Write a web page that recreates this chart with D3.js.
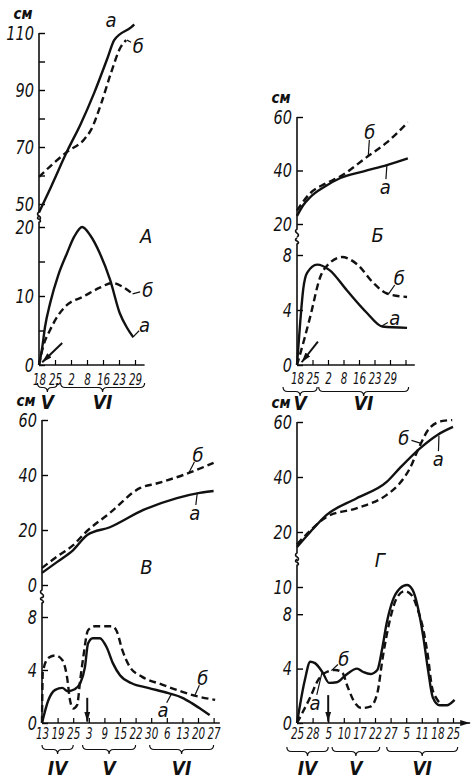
<!DOCTYPE html>
<html>
<head>
<meta charset="utf-8">
<script src="https://cdn.jsdelivr.net/npm/d3@7"></script>
<style>
  body { margin: 0; background: #fff; }
  svg text { font-family: 'DejaVu Sans Condensed', 'Liberation Sans Narrow', sans-serif; font-style: italic; fill: #111; }
</style>
</head>
<body>
<svg id="vis" width="471" height="780"></svg>
<script>
// Даты по оси X (день месяца), месяцы – римскими цифрами
const datesA = ["18", "25", "2", "8", "16", "23", "29"];
const datesB = ["18", "25", "2", "8", "16", "23", "29", ""];
const datesC = ["13", "19", "25", "3", "9", "15", "22", "30", "6", "13", "20", "27"];
const datesD = ["25", "28", "5", "10", "17", "22", "27", "5", "11", "18", "25"];

// месяцы: [название, от индекса, до индекса]
const monthsA = [["V", -0.1, 1.15], ["VI", 1.35, 6.6]];
const monthsB = [["V", -0.9, 1.3], ["VI", 1.4, 7.2]];
const monthsC = [["IV", 0, 2], ["V", 2.6, 6], ["VI", 6.9, 11]];
const monthsD = [["IV", -0.65, 2], ["V", 2.25, 5.3], ["VI", 5.75, 10.3]];

// высота растений, см  ([индекс даты, значение])
const heightA_a = [[0, 47], [0.75, 56], [1.8, 69], [2.6, 78], [3.45, 89], [4.3, 101.5], [4.7, 107.5], [5.75, 112], [5.95, 113]];
const heightA_b = [[0, 59.5], [0.95, 64.5], [1.8, 68.5], [2.8, 72.5], [3.25, 76], [3.9, 85.5], [4.5, 96], [5.1, 105], [5.45, 107.5]];
const heightB_a = [[0, 23], [0.4, 27], [0.85, 30], [1.8, 34], [2.8, 37.2], [4.3, 39.7], [5.8, 42], [7.15, 44.5]];
const heightB_b = [[0, 25], [0.85, 31.5], [1.8, 35], [2.8, 37.8], [4.5, 45], [5.8, 50.5], [7.15, 58]];
const heightC_a = [[0, 4.4], [1, 8.5], [2, 12.7], [2.9, 18.2], [4.35, 21], [6.5, 27.3], [8.65, 31.6], [10.1, 33.5], [11, 34.2]];
const heightC_b = [[0, 6.2], [1, 10.5], [2, 14.5], [2.75, 18.9], [4.35, 26.2], [6.3, 35.3], [7.4, 37], [9.05, 40], [11, 44.4]];
const heightD_a = [[0, 14.5], [0.85, 20], [1.9, 26.2], [3.8, 32.2], [5.75, 38.2], [6.6, 43.3], [7.9, 50.5], [9, 55.3], [10, 58.2]];
const heightD_b = [[0, 15.5], [0.85, 20.5], [1.9, 25.5], [3.85, 28.7], [5.75, 33.5], [6.6, 37.8], [7.25, 43.3], [7.75, 49.8], [8.5, 57.8], [9.35, 60.4], [9.95, 60.7]];

// скорость роста
const rateA_a = [[0, 0], [0.2, 2.5], [0.375, 5.5], [0.7, 9], [1.2, 13], [1.75, 16.2], [2.2, 18.6], [2.7, 20], [3.2, 18.8], [3.8, 16.2], [4.45, 12.3], [5.05, 7.5], [5.5, 5.4], [5.9, 4]];
const rateA_b = [[0, 0], [0.25, 2.6], [0.7, 5.1], [1.2, 7.2], [1.75, 8.7], [2.75, 9.9], [3.8, 11.2], [4.6, 11.9], [5.25, 11.3], [5.8, 10.4]];
const rateB_a = [[0, 0], [0.2, 3], [0.4, 5.5], [0.65, 6.7], [1.3, 7.3], [2.1, 6.9], [3.2, 5.45], [4.5, 3.8], [5.5, 2.8], [7.1, 2.7]];
const rateB_b = [[0, 0], [0.5, 2], [0.85, 3.5], [1.5, 6.4], [2.1, 7.4], [2.9, 7.85], [3.9, 7.3], [4.9, 6], [5.8, 5.2], [7.1, 4.95]];
const rateC_a = [[0, 0], [0.4, 1.7], [0.85, 2.5], [1.3, 2.65], [1.65, 2.4], [2.1, 2.55], [2.45, 3], [2.75, 4.2], [2.95, 6], [3.25, 6.4], [3.7, 6.4], [4.15, 5.7], [4.55, 4.5], [5, 3.6], [5.75, 3], [6.8, 2.65], [8.1, 2.25], [9, 1.9], [9.6, 1.5], [10.25, 1], [10.75, 0.6]];
const rateC_b = [[0, 0], [0.05, 3.8], [0.4, 4.9], [0.85, 5.1], [1.3, 4.75], [1.6, 3.5], [1.8, 1.7], [2, 1.1], [2.25, 1.35], [2.45, 3.25], [2.65, 5], [2.95, 7], [3.4, 7.3], [4.5, 7.3], [4.8, 6.9], [5.15, 5.5], [5.65, 4.2], [6.4, 3.5], [7.7, 2.9], [9, 2.35], [10, 2], [11.1, 1.75]];
const rateD_a = [[0, 0], [0.5, 3.15], [0.85, 4.5], [1.15, 4.4], [1.65, 3.7], [2.05, 2.95], [2.55, 3], [3.1, 3.5], [3.85, 4], [4.25, 3.75], [4.7, 3.6], [5.15, 3.9], [5.45, 5.4], [5.75, 7.35], [6.15, 9.05], [6.6, 9.9], [7.05, 10.15], [7.4, 9.8], [7.75, 8.5], [8.1, 6.3], [8.4, 3.9], [8.7, 1.9], [9.15, 1.3], [9.6, 1.3], [10.1, 1.7]];
const rateD_b = [[0, 0], [0.85, 1.9], [1.35, 3.15], [1.9, 3.75], [2.45, 3.9], [2.9, 3.7], [3.25, 2.65], [3.7, 1.5], [4.15, 1.1], [4.7, 1.2], [5.15, 2.2], [5.5, 4.85], [5.95, 7.55], [6.4, 9.2], [6.9, 9.7], [7.35, 9.4], [7.75, 8.3], [8.1, 6.85], [8.4, 4.85], [8.65, 2.65], [9, 1.7], [9.35, 1.3]];

const svg = d3.select("#vis");

svg.append("defs").append("marker")
  .attr("id", "arr").attr("viewBox", "0 0 10 6").attr("refX", 10).attr("refY", 3)
  .attr("markerWidth", 10).attr("markerHeight", 6).attr("markerUnits", "userSpaceOnUse")
  .attr("orient", "auto")
  .append("path").attr("d", "M0,0L10,3L0,6Z").attr("fill", "#111");

// notes: [график, текст, x, y, цель выноски x, y]
const panels = [
  { dates: datesA, months: monthsA, x0: 39, step: 16, xEnd: 6.6, lab: [9, 18, 37],
    tD: [50, 110], tR: [204, 33], tTicks: [50, 60, 70, 80, 90, 100, 110], tLab: [50, 70, 90, 110], tStop: 47.2,
    bD: [0, 20], bR: [365, 227], bTicks: [0, 5, 10, 15, 20], bLab: [0, 10, 20], bStop: 20.7,
    top: [heightA_a, heightA_b], bot: [rateA_a, rateA_b],
    arrows: [[1.45, 3.2, 0.2, 0.4]],
    notes: [["top", "а", 4.5, 114.5], ["top", "б", 6.2, 105.5, 5.5, 107.5], ["bot", "б", 6.8, 10.9, 5.85, 10.3],
            ["bot", "а", 6.6, 5.8, 5.9, 4.1], ["bot", "А", 6.7, 18.7]] },
  { dates: datesB, months: monthsB, x0: 297, step: 15.5, xEnd: 7.6, lab: [8, 22, 38],
    tD: [20, 60], tR: [224, 117], tTicks: [20, 40, 60], tLab: [20, 40, 60], tStop: 18.1,
    bD: [0, 8], bR: [365, 255], bTicks: [0, 4, 8], bLab: [0, 4, 8], bStop: 8.8,
    top: [heightB_a, heightB_b], bot: [rateB_a, rateB_b],
    arrows: [[1.35, 1.7, 0.3, 0.2]],
    notes: [["top", "б", 4.7, 54.4, 4.6, 45.5], ["top", "а", 5.7, 33.8, 5.8, 42], ["bot", "б", 6.6, 6.3, 5.9, 5.15],
            ["bot", "а", 6.3, 3.4, 5.5, 2.85], ["bot", "Б", 5.2, 9.45]] },
  { dates: datesC, months: monthsC, x0: 42, step: 15.6, xEnd: 11.4, lab: [5, 22, 45],
    tD: [0, 60], tR: [585, 420], tTicks: [0, 20, 40, 60], tLab: [0, 20, 40, 60], tStop: -1.8,
    bD: [0, 8], bR: [723, 617], bTicks: [0, 4, 8], bLab: [0, 4, 8], bStop: 9.05,
    top: [heightC_a, heightC_b], bot: [rateC_a, rateC_b],
    arrows: [[2.9, 1.9, 2.9, 0.1]],
    notes: [["top", "б", 10, 47.3, 9.4, 40.6], ["top", "а", 9.8, 26.2, 9.95, 33.3], ["bot", "б", 10.3, 3.4, 9.8, 2.1],
            ["bot", "а", 7.75, 1, 8.3, 2.2], ["top", "В", 6.7, 6.5]] },
  { dates: datesD, months: monthsD, x0: 297, step: 15.6, xEnd: 11.1, lab: [5, 24, 45], xArrow: true,
    tD: [0, 60], tR: [587, 422], tTicks: [20, 40, 60], tLab: [20, 40, 60], tStop: 12.4,
    bD: [0, 10], bR: [723, 587], bTicks: [0, 4, 8, 10], bLab: [0, 4, 8, 10], bStop: 11.6,
    top: [heightD_a, heightD_b], bot: [rateD_a, rateD_b],
    arrows: [[2, 2.05, 2, 0.1]],
    notes: [["top", "б", 6.85, 54.2, 7.9, 52.3], ["top", "а", 9.05, 46.5, 9.1, 55], ["bot", "б", 3, 4.7, 2.2, 3.85],
            ["bot", "а", 1.15, 1.5, 1.6, 3.7], ["top", "Г", 5.3, 9.8]] }
];

function brace(x1, x2, y, h) {
  const m = (x1 + x2) / 2, r = h / 2;
  return `M${x1},${y}Q${x1},${y + r} ${x1 + r},${y + r}L${m - r},${y + r}Q${m},${y + r} ${m},${y + h}` +
         `Q${m},${y + r} ${m + r},${y + r}L${x2 - r},${y + r}Q${x2},${y + r} ${x2},${y}`;
}

function drawPanel(p) {
  const x = d3.scaleLinear().domain([0, 1]).range([p.x0, p.x0 + p.step]);
  const yT = d3.scaleLinear().domain(p.tD).range(p.tR);
  const yB = d3.scaleLinear().domain(p.bD).range(p.bR);
  const g = svg.append("g");

  // оси Y (засечки внутрь, подписи слева)
  [[yT, p.tTicks, p.tLab], [yB, p.bTicks, p.bLab]].forEach(([y, t, l]) => {
    g.append("g").attr("transform", `translate(${p.x0},0)`)
      .call(d3.axisLeft(y).tickValues(t).tickSize(-6).tickPadding(6).tickFormat(d => l.includes(d) ? d : ""))
      .attr("font-size", 19).attr("font-family", null)
      .call(a => a.select(".domain").remove())
      .call(a => a.selectAll("line").attr("stroke-width", 1.4))
      .call(a => a.selectAll("text").attr("transform", "scale(0.85,1)"));
  });

  // линия оси Y с разрывом
  const yTopEnd = yT(p.tStop), yBotStart = yB(p.bStop);
  g.append("path").attr("fill", "none").attr("stroke", "#111").attr("stroke-width", 1.6)
    .attr("d", `M${p.x0},${yT(p.tD[1])}V${yTopEnd}q-3,2 0,4q3,2 0,4` +
               `M${p.x0},${yBotStart - 6}q-3,2 0,3q3,2 0,3V${yB(0)}`);

  // ось X
  g.append("line").attr("x1", x(0)).attr("x2", x(p.xEnd)).attr("y1", yB(0)).attr("y2", yB(0))
    .attr("stroke", "#111").attr("stroke-width", 1.5)
    .attr("marker-end", p.xArrow ? "url(#arr)" : null);
  g.append("g").attr("transform", `translate(0,${yB(0)})`)
    .call(d3.axisBottom(x).tickValues(d3.range(p.dates.length)).tickSize(-5).tickPadding(p.lab[0]).tickFormat(i => p.dates[i]))
    .attr("font-size", 16).attr("font-family", null)
    .call(a => a.select(".domain").remove())
    .call(a => a.selectAll("line").attr("stroke-width", 1.2))
    .call(a => a.selectAll("text").attr("transform", "scale(0.72,1)"));

  // фигурные скобки и месяцы
  g.selectAll(".br").data(p.months).join("path")
    .attr("fill", "none").attr("stroke", "#111").attr("stroke-width", 1.2)
    .attr("d", d => brace(x(d[1]), x(d[2]), yB(0) + p.lab[1], 9));
  g.selectAll(".mo").data(p.months).join("text")
    .attr("x", d => x((d[1] + d[2]) / 2)).attr("y", yB(0) + p.lab[2] + 7)
    .attr("text-anchor", "middle").attr("font-size", 19).attr("font-weight", "bold")
    .text(d => d[0]);

  // "см"
  g.append("text").attr("x", p.x0 - 16).attr("y", yT(p.tD[1]) - 14)
    .attr("text-anchor", "middle").attr("font-size", 15).attr("font-weight", "bold").text("см");

  // кривые
  const mk = y => d3.line().x(d => x(d[0])).y(d => y(d[1])).curve(d3.curveMonotoneX);
  [[yT, p.top], [yB, p.bot]].forEach(([y, s]) => {
    g.selectAll(null).data(s).join("path")
      .attr("fill", "none").attr("stroke", "#111").attr("stroke-width", 2.4)
      .attr("stroke-dasharray", (d, i) => i ? "7,4" : null)
      .attr("d", mk(y));
  });

  // стрелки
  g.selectAll(null).data(p.arrows).join("line")
    .attr("x1", d => x(d[0])).attr("y1", d => yB(d[1])).attr("x2", d => x(d[2])).attr("y2", d => yB(d[3]))
    .attr("stroke", "#111").attr("stroke-width", 2).attr("marker-end", "url(#arr)");

  // выноски к подписям
  const sy = d => d[0] === "top" ? yT : yB;
  g.selectAll(null).data(p.notes.filter(d => d.length > 4)).join("line")
    .each(function (d) {
      const lx = x(d[2]), ly = sy(d)(d[3]), tx = x(d[4]), ty = sy(d)(d[5]);
      const len = Math.hypot(tx - lx, ty - ly), k = Math.min(0.9, 8 / len);
      d3.select(this).attr("x1", lx + (tx - lx) * k).attr("y1", ly + (ty - ly) * k).attr("x2", tx).attr("y2", ty);
    })
    .attr("stroke", "#111").attr("stroke-width", 1.2);

  // подписи кривых и панели
  g.selectAll(null).data(p.notes).join("text")
    .attr("x", d => x(d[2])).attr("y", d => sy(d)(d[3]))
    .attr("dy", "0.35em").attr("text-anchor", "middle")
    .attr("font-size", 20)
    .text(d => d[1]);
}

panels.forEach(drawPanel);
</script>
</body>
</html>
